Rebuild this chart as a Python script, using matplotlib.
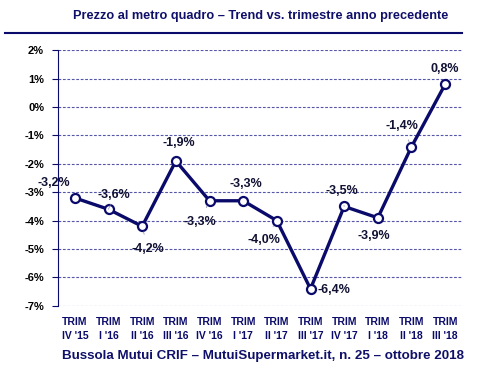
import matplotlib.pyplot as plt

plt.rcParams['font.family'] = ['Liberation Sans', 'DejaVu Sans']

quarters = ["TRIM\nIV '15", "TRIM\nI '16", "TRIM\nII '16", "TRIM\nIII '16",
            "TRIM\nIV '16", "TRIM\nI '17", "TRIM\nII '17", "TRIM\nIII '17",
            "TRIM\nIV '17", "TRIM\nI '18", "TRIM\nII '18", "TRIM\nIII '18"]
trend = [-3.2, -3.6, -4.2, -1.9, -3.3, -3.3, -4.0, -6.4, -3.5, -3.9, -1.4, 0.8]
yticks = [2, 1, 0, -1, -2, -3, -4, -5, -6, -7]

navy = '#0a0a6a'
# label offsets in points (dx, dy), and whether to draw a leader line
offsets = [(-15, 11), (4, 10), (4, -16), (2, 13), (-7, -15), (2, 12),
           (-9, -14), (17, -1), (-2, 11), (-3, -13), (-7, 15), (0, 11)]
leaders = [False, True, True, False, True, False, True, False, True, False, True, False]

fig = plt.figure(figsize=(5, 3.8), dpi=100)
ax = fig.add_axes([0.116, 0.195, 0.808, 0.673])

x = list(range(len(trend)))
ax.plot(x, trend, color=navy, lw=2.4, marker='o', ms=6.5,
        mfc='white', mec=navy, mew=1.6, zorder=3)

for i, v in enumerate(trend):
    dx, dy = offsets[i]
    lbl = ('%.1f%%' % v).replace('.', ',')
    ax.annotate(lbl, (i, v), xytext=(dx, dy), textcoords='offset points',
                ha='center', va='center', fontsize=9, fontweight='bold',
                color='#111133',
                arrowprops=dict(arrowstyle='-', color='#8888aa', lw=0.5,
                                shrinkA=4, shrinkB=4) if leaders[i] else None)

ax.set_xlim(-0.5, len(trend) - 0.5)
ax.set_ylim(-7, 2)
ax.set_yticks(yticks)
ax.set_yticklabels(['%d%%' % t for t in yticks], fontsize=8, fontweight='bold')
ax.set_xticks(x)
ax.set_xticklabels(quarters, fontsize=7.5, fontweight='bold', color=navy,
                   linespacing=1.5)
ax.tick_params(axis='x', length=0, pad=8)
ax.tick_params(axis='y', length=4, color=navy, pad=6)

for s in ['top', 'right', 'bottom']:
    ax.spines[s].set_visible(False)
ax.spines['left'].set_color(navy)
ax.yaxis.grid(True, color='#5555aa', linestyle=(0, (2.5, 1.5)), lw=0.8)
ax.set_axisbelow(True)

fig.text(0.146, 0.958, 'Prezzo al metro quadro \u2013 Trend vs. trimestre anno precedente',
         fontsize=9.2, fontweight='bold', color='#10106a', va='center')
fig.add_artist(plt.Line2D([0.01, 0.924], [0.913, 0.913], color=navy, lw=1.5))
fig.text(0.124, 0.063, 'Bussola Mutui CRIF \u2013 MutuiSupermarket.it, n. 25 \u2013 ottobre 2018',
         fontsize=9.6, fontweight='bold', color='#10106a', va='center')

fig.savefig('out.png', dpi=100)
